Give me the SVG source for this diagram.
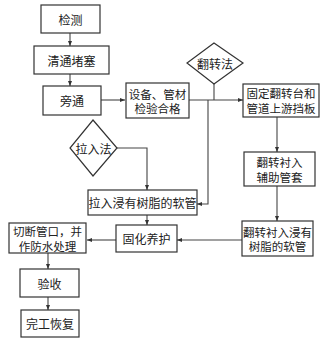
<svg xmlns="http://www.w3.org/2000/svg" width="329" height="342" viewBox="0 0 329 342">
<defs>
<style>
.box{fill:#fff;stroke:#333;stroke-width:1.2}
.ln{fill:none;stroke:#444;stroke-width:1.1}
.t{font-family:"Noto Sans CJK SC","DejaVu Sans",sans-serif;font-size:12px;fill:#222;text-anchor:middle;dominant-baseline:central}
.s{font-size:11.5px}
</style>
<marker id="ah" viewBox="0 0 10 10" refX="10" refY="5" markerWidth="5" markerHeight="5" orient="auto" markerUnits="userSpaceOnUse">
<path d="M0,1 L10,5 L0,9 Z" fill="#333"/>
</marker>
</defs>
<rect width="329" height="342" fill="#fff"/>
<g id="connectors">
<path class="ln" d="M70,33 V46" marker-end="url(#ah)"/>
<path class="ln" d="M70,74 V86" marker-end="url(#ah)"/>
<path class="ln" d="M101,100 H125" marker-end="url(#ah)"/>
<path class="ln" d="M189,100 H243" marker-end="url(#ah)"/>
<path class="ln" d="M214,84 V100"/>
<path class="ln" d="M208,100 V204 H197" marker-end="url(#ah)"/>
<path class="ln" d="M277,117 V152" marker-end="url(#ah)"/>
<path class="ln" d="M277,186 V221" marker-end="url(#ah)"/>
<path class="ln" d="M242,240 H177" marker-end="url(#ah)"/>
<path class="ln" d="M116,240 H87" marker-end="url(#ah)"/>
<path class="ln" d="M117,148 H147 V190" marker-end="url(#ah)"/>
<path class="ln" d="M147,215 V225" marker-end="url(#ah)"/>
<path class="ln" d="M48,253 V269" marker-end="url(#ah)"/>
<path class="ln" d="M48,297 V310" marker-end="url(#ah)"/>
</g>
<g id="n1"><rect class="box" x="41" y="5" width="59" height="28"/><text class="t" x="70.5" y="19">检测</text></g>
<g id="n2"><rect class="box" x="34" y="46" width="75" height="28"/><text class="t" x="71.5" y="60">清通堵塞</text></g>
<g id="n3"><rect class="box" x="43" y="86" width="58" height="29"/><text class="t" x="72" y="100.5">旁通</text></g>
<g id="n4"><rect class="box" x="126" y="83" width="63" height="35"/><text class="t s" x="157.5" y="93.5">设备、管材</text><text class="t s" x="157.5" y="108">检验合格</text></g>
<g id="d1"><polygon class="box" points="214,43 243,63 214,84 187,63"/><text class="t" x="215" y="63">翻转法</text></g>
<g id="n5"><rect class="box" x="243" y="84" width="76" height="33"/><text class="t s" x="281" y="93.2">固定翻转台和</text><text class="t s" x="281" y="107.8">管道上游挡板</text></g>
<g id="n6"><rect class="box" x="244" y="152" width="71" height="34"/><text class="t s" x="279.5" y="162.2">翻转衬入</text><text class="t s" x="279.5" y="176.8">辅助管套</text></g>
<g id="n7"><rect class="box" x="242" y="221" width="71" height="35"/><text class="t s" x="277.5" y="231.5">翻转衬入浸有</text><text class="t s" x="277.5" y="246">树脂的软管</text></g>
<g id="d2"><polygon class="box" points="93,120 117,148 93,176 70,148"/><text class="t" x="93.5" y="148">拉入法</text></g>
<g id="n8"><rect class="box" x="88" y="190" width="109" height="25"/><text class="t" x="142.5" y="202.5">拉入浸有树脂的软管</text></g>
<g id="n9"><rect class="box" x="116" y="225" width="61" height="27"/><text class="t" x="146.5" y="238.5">固化养护</text></g>
<g id="n10"><rect class="box" x="9" y="223" width="77" height="30"/><text class="t s" x="47.5" y="231">切断管口，并</text><text class="t s" x="47.5" y="245.5">作防水处理</text></g>
<g id="n11"><rect class="box" x="20" y="269" width="59" height="28"/><text class="t" x="49.5" y="283">验收</text></g>
<g id="n12"><rect class="box" x="21" y="310" width="58" height="27"/><text class="t" x="50" y="323.5">完工恢复</text></g>
</svg>
